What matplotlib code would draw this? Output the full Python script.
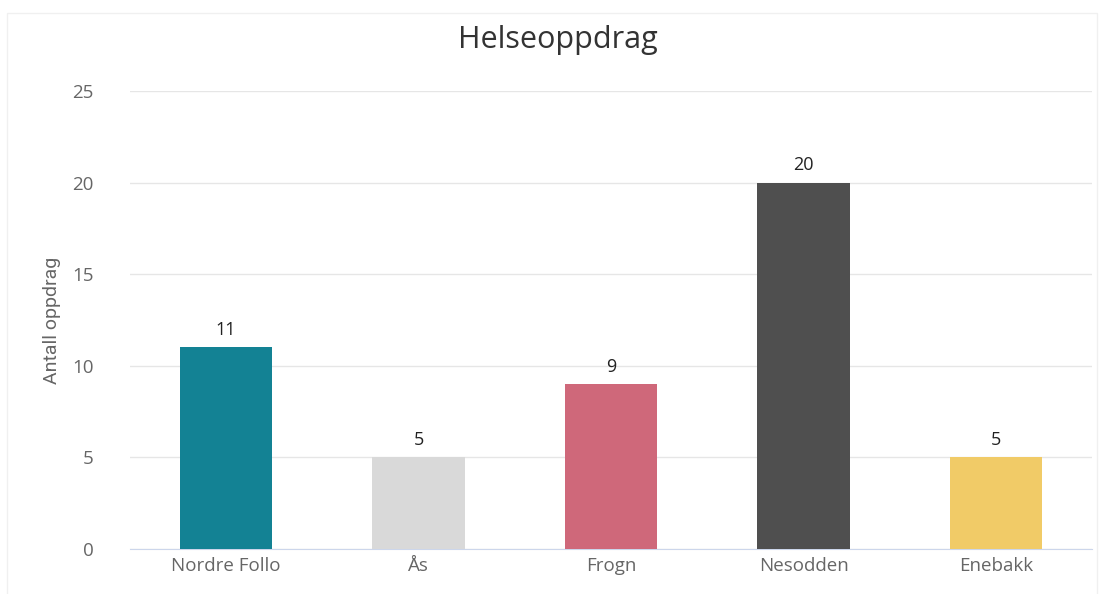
import matplotlib.pyplot as plt
from matplotlib.patches import Rectangle

plt.rcParams['font.family'] = ['Open Sans', 'DejaVu Sans']

# data
kommuner = ['Nordre Follo', 'Ås', 'Frogn', 'Nesodden', 'Enebakk']
oppdrag = [11, 5, 9, 20, 5]
farger = ['#138294', '#d9d9d9', '#cf687a', '#4f4f4f', '#f1cb67']

fig = plt.figure(figsize=(11.01, 5.94), dpi=100)
ax = fig.add_axes([0.118, 0.0758, 0.874, 0.771])

# faint frame round the chart
fig.patches.append(Rectangle((0.006, -0.01), 0.99, 0.988, transform=fig.transFigure,
                             fill=False, edgecolor='#f0f0f0', linewidth=1))

x = range(len(kommuner))
bars = ax.bar(x, oppdrag, width=0.48, color=farger, zorder=3)
for b, v in zip(bars, oppdrag):
    ax.text(b.get_x() + b.get_width() / 2, v + 0.45, str(v), ha='center', va='bottom',
            fontsize=13, color='#222222')

ax.set_xlim(-0.5, len(kommuner) - 0.5)
ax.set_ylim(0, 25)
ax.set_yticks([0, 5, 10, 15, 20, 25])
ax.set_xticks(list(x))
ax.set_xticklabels(kommuner)
ax.grid(axis='y', color='#e6e6e6', linewidth=1, zorder=0)
for s in ['top', 'right', 'left']:
    ax.spines[s].set_visible(False)
ax.spines['bottom'].set_color('#ccd6eb')
ax.tick_params(axis='both', length=0, labelsize=13.5, colors='#666666')
ax.tick_params(axis='y', pad=26)
ax.tick_params(axis='x', pad=6)

ax.set_ylabel('Antall oppdrag', fontsize=14, color='#666666', family=['Liberation Sans Narrow', 'Roboto', 'DejaVu Sans'],
              labelpad=8)
fig.text(0.507, 0.932, 'Helseoppdrag', ha='center', va='center', fontsize=22, color='#333333')

fig.savefig('out.png', dpi=100)
